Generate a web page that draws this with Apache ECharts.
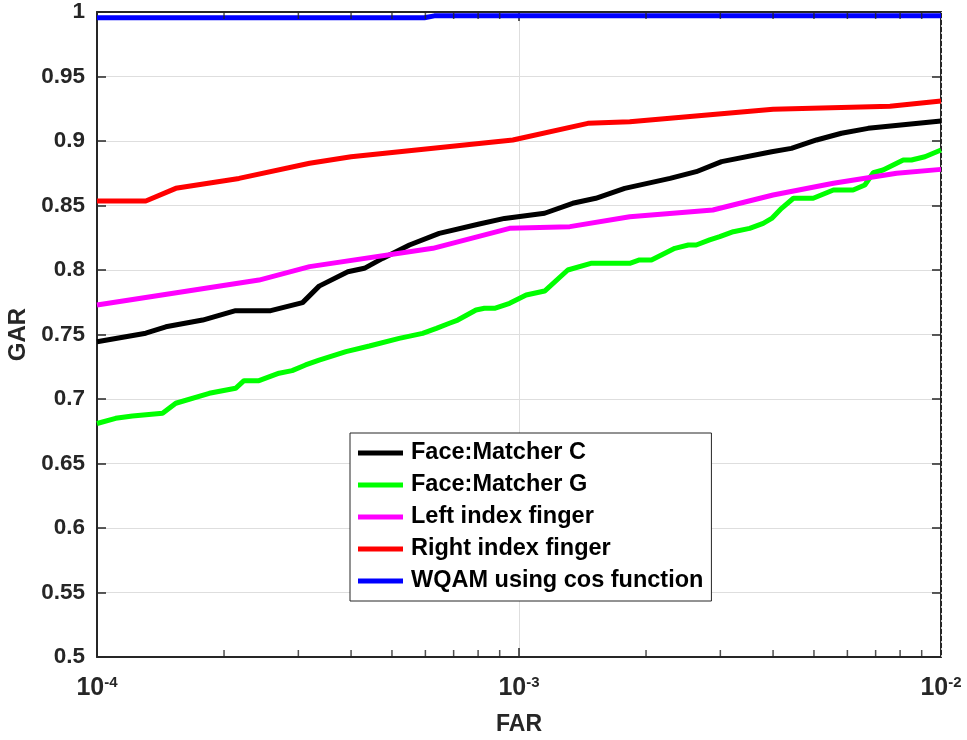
<!DOCTYPE html>
<html>
<head>
<meta charset="utf-8">
<script src="https://cdn.jsdelivr.net/npm/echarts@6/dist/echarts.min.js"></script>
<style>
  html, body { margin: 0; padding: 0; background: #fff; }
  #chart { width: 967px; height: 740px; }
</style>
</head>
<body>
<div id="chart"></div>
<script>
// FAR / GAR points
const farC = [1e-4, 1.305e-4, 1.456e-4, 1.78e-4, 2.13e-4, 2.58e-4, 3.07e-4, 3.36e-4, 3.93e-4, 4.3e-4, 4.75e-4, 5.5e-4, 6.47e-4, 8.05e-4, 9.24e-4, 1.15e-3, 1.34e-3, 1.52e-3, 1.78e-3, 2.28e-3, 2.63e-3, 3.02e-3, 3.97e-3, 4.42e-3, 5.07e-3, 5.81e-3, 6.72e-3, 1e-2];
const garC = [0.7444, 0.751, 0.756, 0.7612, 0.7685, 0.7685, 0.7747, 0.7875, 0.7987, 0.8013, 0.809, 0.8194, 0.8284, 0.8357, 0.840, 0.844, 0.8517, 0.8556, 0.8633, 0.871, 0.8762, 0.884, 0.8917, 0.8943, 0.9008, 0.906, 0.9098, 0.9155];

const farG = [1e-4, 1.107e-4, 1.213e-4, 1.43e-4, 1.537e-4, 1.845e-4, 2.13e-4, 2.23e-4, 2.42e-4, 2.7e-4, 2.9e-4, 3.12e-4, 3.36e-4, 3.89e-4, 4.42e-4, 5.2e-4, 5.91e-4, 6.37e-4, 6.84e-4, 7.16e-4, 7.91e-4, 8.28e-4, 8.75e-4, 9.5e-4, 1.04e-3, 1.15e-3, 1.305e-3, 1.48e-3, 1.83e-3, 1.93e-3, 2.06e-3, 2.34e-3, 2.52e-3, 2.63e-3, 2.83e-3, 2.99e-3, 3.22e-3, 3.52e-3, 3.79e-3, 3.97e-3, 4.19e-3, 4.47e-3, 4.98e-3, 5.56e-3, 6.19e-3, 6.6e-3, 6.91e-3, 7.29e-3, 8.14e-3, 8.51e-3, 9.16e-3, 1e-2];
const garG = [0.681, 0.685, 0.6868, 0.6889, 0.6967, 0.7044, 0.7083, 0.7142, 0.7142, 0.720, 0.722, 0.7264, 0.7302, 0.7367, 0.7411, 0.747, 0.7509, 0.7548, 0.7587, 0.7612, 0.769, 0.7703, 0.7703, 0.7742, 0.7806, 0.7837, 0.800, 0.8052, 0.8052, 0.8078, 0.8078, 0.8168, 0.8194, 0.8194, 0.8233, 0.8258, 0.8297, 0.8323, 0.8362, 0.840, 0.8478, 0.8556, 0.8556, 0.862, 0.862, 0.8659, 0.8754, 0.8775, 0.8853, 0.8853, 0.8878, 0.893];

const farLeft = [1e-4, 2.42e-4, 3.19e-4, 6.25e-4, 9.5e-4, 1.32e-3, 1.83e-3, 2.88e-3, 4.0e-3, 5.56e-3, 7.85e-3, 1e-2];
const garLeft = [0.7729, 0.7922, 0.8026, 0.8168, 0.8323, 0.8336, 0.8413, 0.8465, 0.8581, 0.8672, 0.875, 0.878];

const farRight = [1e-4, 1.305e-4, 1.537e-4, 2.17e-4, 3.19e-4, 4.0e-4, 9.67e-4, 1.456e-3, 1.83e-3, 4.0e-3, 7.57e-3, 1e-2];
const garRight = [0.8535, 0.8535, 0.8633, 0.871, 0.8827, 0.8878, 0.9008, 0.9137, 0.915, 0.9246, 0.927, 0.931];

const farWqam = [1e-4, 5.97e-4, 6.3e-4, 1e-2];
const garWqam = [0.9955, 0.9955, 0.997, 0.997];

const names = ['Face:Matcher C', 'Face:Matcher G', 'Left index finger', 'Right index finger', 'WQAM using cos function'];
const colors = ['#000000', '#00ff00', '#ff00ff', '#ff0000', '#0000ff'];

// log-decade minor ticks (2..9 in each decade)
const minorTicks = [2e-4, 3e-4, 4e-4, 5e-4, 6e-4, 7e-4, 8e-4, 9e-4, 2e-3, 3e-3, 4e-3, 5e-3, 6e-3, 7e-3, 8e-3, 9e-3];

const zip = (xs, ys) => xs.map((x, i) => [x, ys[i]]);
const curves = [zip(farC, garC), zip(farG, garG), zip(farLeft, garLeft), zip(farRight, garRight), zip(farWqam, garWqam)];

const axisColor = '#262626';
const font = 'Arial, "Liberation Sans", sans-serif';
const narrow = '"Liberation Sans Narrow", "Arial Narrow", Arial, "Liberation Sans", sans-serif';

const chart = echarts.init(document.getElementById('chart'));

const series = curves.map((d, i) => ({
    name: names[i],
    type: 'line',
    data: d,
    symbol: 'none',
    z: 10 + i,
    lineStyle: { width: 5, color: colors[i] },
    itemStyle: { color: colors[i] }
}));

// dotted minor grid lines
series.push({
    type: 'line',
    data: [],
    silent: true,
    z: 1,
    markLine: {
        silent: true,
        symbol: 'none',
        label: { show: false },
        lineStyle: { type: [2, 5], color: '#c4c4c4', width: 1 },
        data: minorTicks.map(v => ({ xAxis: v }))
    }
});
// minor tick marks, bottom and top edges
series.push({
    type: 'scatter',
    silent: true,
    z: 20,
    symbol: 'rect',
    symbolSize: [1.5, 7],
    symbolOffset: [0, -3.5],
    itemStyle: { color: axisColor },
    data: minorTicks.map(v => [v, 0.5])
});
series.push({
    type: 'scatter',
    silent: true,
    z: 20,
    symbol: 'rect',
    symbolSize: [1.5, 7],
    symbolOffset: [0, 3.5],
    itemStyle: { color: axisColor },
    data: minorTicks.map(v => [v, 1])
});

const option = {
    animation: false,
    backgroundColor: '#fff',
    grid: { left: 97, right: 26, top: 12, bottom: 83, outerBoundsMode: 'none', containLabel: false },
    legend: {
        data: names,
        orient: 'vertical',
        left: 350,
        top: 433,
        padding: [8, 8, 8, 8],
        itemGap: 8,
        itemWidth: 45,
        itemHeight: 5,
        icon: 'rect',
        backgroundColor: '#fff',
        borderColor: axisColor,
        borderWidth: 1,
        borderRadius: 0,
        textStyle: { fontFamily: font, fontWeight: 'bold', fontSize: 23.5, color: '#000', padding: [0, 0, 0, 3] }
    },
    xAxis: [{
        type: 'log',
        logBase: 10,
        min: 1e-4,
        max: 1e-2,
        name: 'FAR',
        nameLocation: 'middle',
        nameGap: 56,
        nameTextStyle: { fontFamily: font, fontWeight: 'bold', fontSize: 23, color: axisColor },
        axisLine: { lineStyle: { color: axisColor, width: 2 } },
        axisTick: { inside: true, length: 9, lineStyle: { color: axisColor, width: 1.5 } },
        splitLine: { show: true, showMinLine: false, showMaxLine: false, lineStyle: { color: '#dedede', width: 1 } },
        axisLabel: {
            margin: 18,
            formatter: v => '{b|10}{s|' + Math.round(Math.log10(v)) + '}',
            rich: {
                b: { fontFamily: narrow, fontWeight: 'bold', fontSize: 25, color: axisColor },
                s: { fontFamily: narrow, fontWeight: 'bold', fontSize: 15, color: axisColor, verticalAlign: 'top', padding: [0, 0, 12, 0] }
            }
        }
    }, {
        type: 'log',
        logBase: 10,
        min: 1e-4,
        max: 1e-2,
        position: 'top',
        axisLine: { lineStyle: { color: axisColor, width: 2 } },
        axisTick: { inside: true, length: 9, lineStyle: { color: axisColor, width: 1.5 } },
        axisLabel: { show: false },
        splitLine: { show: false }
    }],
    yAxis: [{
        type: 'value',
        min: 0.5,
        max: 1,
        interval: 0.05,
        name: 'GAR',
        nameLocation: 'middle',
        nameGap: 57,
        nameTextStyle: { fontFamily: font, fontWeight: 'bold', fontSize: 24, color: axisColor },
        axisLine: { show: true, lineStyle: { color: axisColor, width: 2 } },
        axisTick: { show: true, inside: true, length: 9, lineStyle: { color: axisColor, width: 1.5 } },
        splitLine: { show: true, showMinLine: false, showMaxLine: false, lineStyle: { color: '#dedede', width: 1 } },
        axisLabel: { margin: 12, fontFamily: font, fontWeight: 'bold', fontSize: 22.5, color: axisColor }
    }, {
        type: 'value',
        min: 0.5,
        max: 1,
        interval: 0.05,
        position: 'right',
        axisLine: { show: true, lineStyle: { color: axisColor, width: 2 } },
        axisTick: { show: true, inside: true, length: 9, lineStyle: { color: axisColor, width: 1.5 } },
        axisLabel: { show: false },
        splitLine: { show: false }
    }],
    series: series
};

chart.setOption(option);
</script>
</body>
</html>
